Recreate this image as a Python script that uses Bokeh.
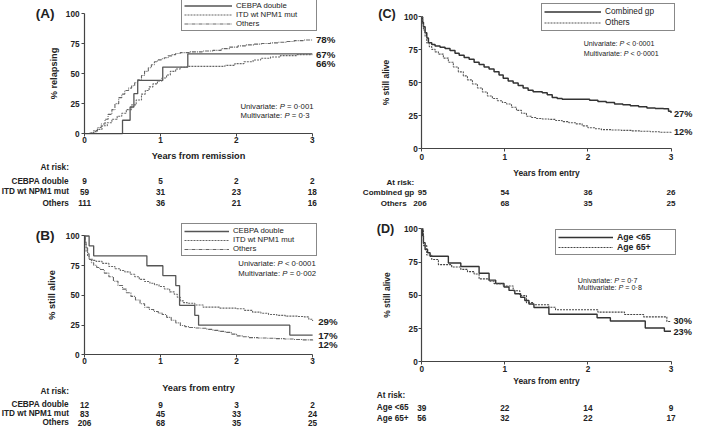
from bokeh.plotting import figure
from bokeh.models import Range1d, LinearAxis, FixedTicker, Legend, LegendItem
from bokeh.layouts import gridplot
from bokeh.embed import file_html
from bokeh.resources import INLINE
from bokeh.core.properties import value

FONT = "Liberation Sans"
INK = "#222222"

# ---------------- data ----------------
year_ticks = [0, 1, 2, 3]
pct_ticks = [0, 25, 50, 75, 100]

# (A) cumulative relapse, % relapsing
a_cebpa_t = [0, 0.50, 0.60, 0.65, 0.70, 1.03, 1.36, 3.00]
a_cebpa_v = [0, 11.1, 22.2, 33.3, 44.4, 55.6, 66.7, 66.7]
a_itd_t = [0, 0.06, 0.12, 0.17, 0.23, 0.30, 0.36, 0.43, 0.49, 0.55, 0.62, 0.68, 0.75, 0.80, 0.85, 0.90,
           0.96, 1.02, 1.08, 1.13, 1.20, 1.26, 1.35, 1.85, 1.98, 2.10, 2.22, 2.32, 2.45, 2.58, 2.80, 3.00]
a_itd_v = [0, 0.5, 1.6, 3.5, 6.5, 9.0, 12.0, 14.5, 17.0, 20.0, 24.0, 28.0, 33.0, 36.0, 39.0, 41.5,
           44.0, 46.5, 49.0, 52.0, 54.0, 55.4, 56.2, 57.0, 58.5, 60.0, 61.5, 63.0, 64.0, 65.2, 66.0, 66.0]
a_oth_t = [0, 0.07, 0.12, 0.17, 0.22, 0.27, 0.31, 0.36, 0.40, 0.45, 0.49, 0.53, 0.58, 0.62, 0.66, 0.70,
           0.75, 0.79, 0.84, 0.88, 0.92, 0.96, 1.01, 1.05, 1.10, 1.15, 1.20, 1.26, 1.39, 1.55, 1.69, 1.80,
           1.91, 2.02, 2.12, 2.23, 2.33, 2.45, 2.55, 2.66, 2.76, 2.88, 3.00]
a_oth_v = [0, 0.5, 2.5, 5.0, 8.0, 12.0, 16.0, 20.0, 25.0, 30.0, 33.0, 36.0, 38.0, 40.0, 42.5, 45.0,
           48.5, 52.0, 55.0, 57.5, 60.0, 61.6, 62.5, 63.4, 65.0, 66.0, 67.0, 67.7, 68.3, 69.0, 69.6, 71.0,
           72.3, 73.3, 74.2, 74.8, 75.3, 75.8, 76.3, 77.0, 77.7, 78.2, 78.2]

# (B) overall survival, % still alive
b_cebpa_t = [0, 0.06, 0.12, 0.82, 1.03, 1.20, 1.25, 1.45, 1.50, 2.70, 3.00]
b_cebpa_v = [100, 91.7, 83.3, 75.0, 66.7, 58.3, 41.7, 33.3, 25.0, 16.7, 16.7]
b_itd_t = [0, 0.01, 0.02, 0.04, 0.06, 0.10, 0.15, 0.23, 0.32, 0.40, 0.47, 0.53, 0.60, 0.66, 0.72, 0.79,
           0.86, 0.92, 0.98, 1.05, 1.12, 1.18, 1.22, 1.26, 1.30, 1.35, 1.45, 1.56, 1.78, 1.99, 2.10, 2.21,
           2.32, 2.42, 2.53, 2.64, 2.80, 2.89, 2.95, 3.00]
b_itd_v = [100, 93, 87, 83, 80.6, 79.5, 78.7, 77, 74.4, 72.5, 71, 69.8, 67.8, 65.8, 63.5, 61.7,
           60.3, 59, 57.5, 55.5, 53, 51, 48.5, 45.5, 44, 43.4, 42, 40.2, 39.4, 38.8, 37.5, 36,
           35, 34, 33.3, 32.6, 32.3, 32, 30, 28.5]
# "Others" (n=206) survival, shown in (B) and (C)
oth_t = [0, 0.01, 0.02, 0.04, 0.06, 0.09, 0.12, 0.16, 0.20, 0.26, 0.32, 0.38, 0.44, 0.50, 0.55, 0.61,
         0.67, 0.73, 0.79, 0.85, 0.91, 0.97, 1.02, 1.08, 1.14, 1.20, 1.26, 1.32, 1.38, 1.45, 1.53, 1.61,
         1.69, 1.77, 1.85, 1.93, 2.00, 2.08, 2.16, 2.28, 2.40, 2.52, 2.63, 2.75, 2.86, 3.00]
oth_v = [100, 95, 90, 85, 80.3, 77.5, 75.4, 73.5, 71.8, 68.8, 65.7, 62, 58.4, 55.3, 52.3, 49.2,
         46.2, 43.1, 40.1, 38.2, 36.5, 35.2, 34, 31.6, 29.2, 27, 24.8, 23.8, 23.1, 22.7, 22.4, 21.5,
         20.7, 19.8, 19, 17.5, 16, 15.3, 14.6, 14.3, 14.1, 13.7, 13.4, 13, 12.7, 12.2]

# (C) combined group survival
c_comb_t = [0, 0.01, 0.02, 0.04, 0.06, 0.08, 0.12, 0.16, 0.22, 0.28, 0.34, 0.40, 0.45, 0.51, 0.57, 0.63,
            0.69, 0.75, 0.81, 0.87, 0.93, 0.98, 1.04, 1.10, 1.16, 1.22, 1.28, 1.34, 1.45, 1.51, 1.57, 1.63,
            1.69, 2.02, 2.12, 2.22, 2.32, 2.42, 2.51, 2.61, 2.71, 2.81, 2.91, 2.97, 3.00]
c_comb_v = [100, 96, 92.5, 88, 84, 80.5, 79, 78, 77, 76, 74.5, 72.5, 71, 69.3, 68, 65.7,
            64, 62, 60.5, 58.4, 56, 53.5, 51.5, 49.9, 48, 46.2, 44.5, 43.3, 42.6, 41, 38.9, 38.2,
            37.7, 36.8, 36, 35.2, 34, 33.5, 32.8, 32, 31.1, 30.6, 30.4, 28.5, 27.2]

# (D) survival by age within combined group
d_young_t = [0, 0.01, 0.02, 0.04, 0.07, 0.10, 0.32, 0.47, 0.69, 0.81, 0.89, 0.99, 1.05, 1.12, 1.19, 1.24,
             1.29, 1.35, 1.53, 2.11, 2.27, 2.69, 2.92, 3.00]
d_young_v = [100, 94.9, 89.7, 84.6, 82.1, 79.5, 74.4, 71.8, 66.7, 61.5, 59.0, 56.4, 53.8, 51.3, 48.7, 46.2,
             43.6, 41.0, 35.9, 33.3, 30.8, 25.6, 23.1, 23.1]
d_old_t = [0, 0.02, 0.06, 0.12, 0.20, 0.36, 0.47, 0.55, 0.63, 0.69, 0.81, 0.87, 0.98, 1.10, 1.18, 1.26,
           1.34, 1.53, 1.61, 2.12, 2.44, 2.67, 2.95, 3.00]
d_old_v = [100, 87.5, 80.4, 77.0, 73.2, 71.4, 69.6, 67.9, 66.1, 62.5, 60.7, 58.9, 57.1, 53.6, 50.0, 44.6,
           43.0, 41.1, 39.3, 37.5, 35.7, 33.9, 30.4, 30.4]

# at-risk tables
ab_groups = ["CEBPA double", "ITD wt NPM1 mut", "Others"]
a_risk = [[9, 5, 2, 2], [59, 31, 23, 18], [111, 36, 21, 16]]
b_risk = [[12, 9, 3, 2], [83, 45, 33, 24], [206, 68, 35, 25]]
c_groups = ["Combined gp", "Others"]
c_risk = [[95, 54, 36, 26], [206, 68, 35, 25]]
d_groups = ["Age <65", "Age 65+"]
d_risk = [[39, 22, 14, 9], [56, 32, 22, 17]]

a_end = ["78%", "67%", "66%"]
b_end = ["29%", "17%", "12%"]
c_end = ["27%", "12%"]
d_end = ["30%", "23%"]

a_p = [("Univariate:", "P", "= 0\u00b7001"), ("Multivariate:", "P", "= 0\u00b73")]
b_p = [("Univariate:", "P", "< 0\u00b70001"), ("Multivariate:", "P", "= 0\u00b7002")]
c_p = [("Univariate:", "P", "< 0\u00b70001"), ("Multivariate:", "P", "< 0\u00b70001")]
d_p = [("Univariate:", "P", "= 0\u00b77"), ("Multivariate:", "P", "= 0\u00b78")]

# ---------------- layout helpers ----------------
SX, SY = 693 / 709, 428 / 444   # reference pixels -> canvas pixels
FS = 0.97
AW = {' ': 278, ':': 278, '=': 584, '<': 584, '\u00b7': 278, 'U': 722, 'M': 833, 'n': 556, 'i': 222,
      'v': 500, 'a': 556, 'r': 333, 't': 278, 'e': 556, 'l': 222, 'u': 556, 'P': 667}


def tw(s, px):
    return sum(AW.get(c, 556) for c in s) / 1000 * px


class Panel:
    def __init__(self, cx, cy, w, h, rx0, rx3, ry100, ry0):
        self.cx, self.cy, self.w, self.h = cx, cy, w, h
        lx0 = rx0 * SX - cx
        lx3 = rx3 * SX - cx
        ly100 = ry100 * SY - cy
        ly0 = ry0 * SY - cy
        self.lx0, self.ly0 = lx0, ly0
        self.ppx = (lx3 - lx0) / 3
        self.ppy = (ly0 - ly100) / 100
        p = figure(width=w, height=h,
                   x_range=Range1d(-lx0 / self.ppx, (w - lx0) / self.ppx),
                   y_range=Range1d((ly0 - h) / self.ppy, ly0 / self.ppy),
                   x_axis_location=None, y_axis_location=None,
                   output_backend="svg", toolbar_location=None,
                   min_border=0, outline_line_color=None)
        p.xgrid.visible = False
        p.ygrid.visible = False
        self.p = p

    def X(self, rx):
        return (rx * SX - self.cx - self.lx0) / self.ppx

    def Y(self, ry):
        return (self.ly0 - (ry * SY - self.cy)) / self.ppy

    def lx(self, rx):
        return rx * SX - self.cx

    def ly(self, ry):
        return ry * SY - self.cy


def T(P, xs, ys, texts, size, style="bold", align="center", x_offset=0, color=INK):
    P.p.text(x=xs, y=ys, text=texts, text_font=value(FONT), text_font_size=f"{size * FS:.2f}px",
             text_font_style=style, text_align=align, text_baseline="middle", text_color=color,
             x_offset=x_offset)


def axes(P, xlabel, ylabel, tick_px, lab_px, x_tick_st, x_lab_st, y_tick_st, y_lab_st):
    xa = LinearAxis(fixed_location=0, bounds=(0, 3), ticker=FixedTicker(ticks=year_ticks), axis_label=xlabel)
    ya = LinearAxis(fixed_location=0, bounds=(0, 100), ticker=FixedTicker(ticks=pct_ticks), axis_label=ylabel)
    for a in (xa, ya):
        a.axis_line_color = "#444444"
        a.axis_line_width = 1.2
        a.major_tick_line_color = "#444444"
        a.major_tick_line_width = 1
        a.major_tick_out = 3
        a.major_tick_in = 0
        a.minor_tick_line_color = None
        a.major_label_text_font = FONT
        a.major_label_text_font_size = f"{tick_px * FS:.2f}px"
        a.major_label_text_font_style = "bold"
        a.major_label_text_color = INK
        a.axis_label_text_font = FONT
        a.axis_label_text_font_size = f"{lab_px * FS:.2f}px"
        a.axis_label_text_font_style = "bold"
        a.axis_label_text_color = INK
    xa.major_label_standoff = x_tick_st
    xa.axis_label_standoff = x_lab_st
    ya.major_label_standoff = y_tick_st
    ya.axis_label_standoff = y_lab_st
    P.p.add_layout(xa, "below")
    P.p.add_layout(ya, "left")


def legend(P, items, rbox, rtext_x, font_px, style="normal"):
    rl, rt, rr, rb = rbox
    L, top, R, B = P.lx(rl), P.ly(rt), P.lx(rr), P.ly(rb)
    pad, st = 2, 4
    n = len(items)
    row_h = int(round((B - top - 2 * pad) / n))
    gw = int(round(P.lx(rtext_x) - L - pad - st))
    lw = int(round(R - P.lx(rtext_x) - pad))
    lg = Legend(items=items, location=(int(round(L)), int(round(P.h - B))),
                orientation="vertical", border_line_color="#111111", border_line_width=1.5,
                background_fill_color="white", background_fill_alpha=1.0,
                label_text_font=FONT, label_text_font_size=f"{font_px * FS:.2f}px",
                label_text_font_style=style, label_text_color=INK,
                glyph_width=gw, glyph_height=row_h, label_height=row_h, label_width=lw,
                spacing=0, padding=pad, margin=0, label_standoff=st)
    P.p.add_layout(lg)


def ptext(P, rx, rys, lines, size):
    fs = size * FS
    sp = tw(" ", fs)
    for (pre, sym, post), ry in zip(lines, rys):
        x, y = P.X(rx), P.Y(ry)
        w1 = tw(pre, fs) + sp
        w2 = tw(sym, fs) + sp
        T(P, [x], [y], [pre], size, style="normal", align="left")
        T(P, [x], [y], [sym], size, style="italic", align="left", x_offset=w1)
        T(P, [x], [y], [post], size, style="normal", align="left", x_offset=w1 + w2)


def at_risk(P, groups, rows, rx_labs, ry_head, ry_rows, size, align, first_right=None):
    T(P, [P.X(rx_labs[0])], [P.Y(ry_head)], ["At risk:"], size, align=align)
    for g, row, ry, rxl in zip(groups, rows, ry_rows, rx_labs):
        T(P, [P.X(rxl)], [P.Y(ry)], [g], size, align=align)
        labels = [str(n) for n in row]
        if first_right is None:
            T(P, year_ticks, [P.Y(ry)] * len(year_ticks), labels, size, align="center")
        else:
            T(P, [P.X(first_right)], [P.Y(ry)], labels[:1], size, align="right")
            T(P, year_ticks[1:], [P.Y(ry)] * (len(year_ticks) - 1), labels[1:], size, align="center")


def end_labels(P, texts, rx, rys, size):
    T(P, [P.X(rx)] * len(texts), [P.Y(r) for r in rys], texts, size, align="left")


# ---------------- panel A ----------------
A = Panel(0, 0, 347, 211, 86, 319, 14, 138)
axes(A, "Years from remission", "% relapsing", 8.5, 9.5, 0, 5, 2, 4)
ra1 = A.p.step(a_cebpa_t, a_cebpa_v, mode="after", line_color="#555555", line_width=1.3)
ra2 = A.p.step(a_itd_t, a_itd_v, mode="after", line_color="#666666", line_width=1.1, line_dash="2 1")
ra3 = A.p.step(a_oth_t, a_oth_v, mode="after", line_color="#666666", line_width=1.1, line_dash="4 1 1 1")
legend(A, [LegendItem(label=g, renderers=[r]) for g, r in zip(ab_groups, [ra1, ra2, ra3])],
       (185, 1, 322, 32), 240, 8)
T(A, [A.X(36)], [A.Y(14)], ["(A)"], 14, align="left")
end_labels(A, a_end, 322.7, [40.7, 56.5, 65.7], 10)
ptext(A, 245.5, [110, 119.3], a_p, 8)
at_risk(A, ab_groups, a_risk, [70, 70, 70], 173.3, [187.7, 198.6, 210.5], 8.5, "right")

# ---------------- panel B ----------------
B = Panel(0, 211, 347, 217, 86, 319.3, 244.3, 367.7)
axes(B, "Years from entry", "% still alive", 8.5, 9.5, 0, 16, 2, 6)
rb1 = B.p.step(b_cebpa_t, b_cebpa_v, mode="after", line_color="#555555", line_width=1.3)
rb2 = B.p.step(b_itd_t, b_itd_v, mode="after", line_color="#666666", line_width=1.1, line_dash="2 1")
rb3 = B.p.step(oth_t, oth_v, mode="after", line_color="#666666", line_width=1.1, line_dash="4 1 1 1")
legend(B, [LegendItem(label=g, renderers=[r]) for g, r in zip(ab_groups, [rb1, rb2, rb3])],
       (185, 236.7, 322, 266), 236.7, 8)
T(B, [B.X(36)], [B.Y(244)], ["(B)"], 14, align="left")
end_labels(B, b_end, 325, [333.3, 347.7, 356.7], 10)
ptext(B, 243.3, [273.3, 283.3], b_p, 8)
at_risk(B, ab_groups, b_risk, [70, 70, 70], 406, [419.3, 428.7, 437.9], 8.5, "right")

# ---------------- panel C ----------------
C = Panel(347, 0, 346, 211, 431, 686, 17, 154)
axes(C, "Years from entry", "% still alive", 8.5, 8.7, 2, 5, 1, 10)
rc1 = C.p.step(c_comb_t, c_comb_v, mode="after", line_color="#333333", line_width=1.5)
rc2 = C.p.step(oth_t, oth_v, mode="after", line_color="#555555", line_width=1.1, line_dash="2 1")
legend(C, [LegendItem(label=g, renderers=[r]) for g, r in zip(c_groups, [rc1, rc2])],
       (553, 6, 688, 32), 617.3, 8.5)
T(C, [C.X(386.5)], [C.Y(14)], ["(C)"], 13, align="left")
end_labels(C, c_end, 689, [117.7, 136.7], 9.5)
ptext(C, 596.7, [44.7, 55], c_p, 7.3)
at_risk(C, c_groups, c_risk, [423.3, 415.5], 188.3, [199.3, 210.7], 8.3, "right", first_right=436)

# ---------------- panel D ----------------
D = Panel(347, 211, 346, 217, 431, 686, 237, 375)
axes(D, "Years from entry", "% still alive", 8.5, 8.7, 1, 1, 1, 9)
rd1 = D.p.step(d_young_t, d_young_v, mode="after", line_color="#333333", line_width=1.4)
rd2 = D.p.step(d_old_t, d_old_v, mode="after", line_color="#444444", line_width=1.1, line_dash="2 1")
legend(D, [LegendItem(label=g, renderers=[r]) for g, r in zip(d_groups, [rd1, rd2])],
       (568, 240, 689, 265), 630, 9, style="bold")
T(D, [D.X(385)], [D.Y(236.7)], ["(D)"], 13, align="left")
end_labels(D, d_end, 688.5, [332.7, 344.3], 9.5)
ptext(D, 590.7, [291, 298.3], d_p, 7.4)
at_risk(D, d_groups, d_risk, [385, 385], 409.3, [422.7, 433.3], 8.5, "left")

grid = gridplot([[A.p, C.p], [B.p, D.p]], toolbar_location=None)
open("out.html", "w").write(file_html(grid, INLINE))
